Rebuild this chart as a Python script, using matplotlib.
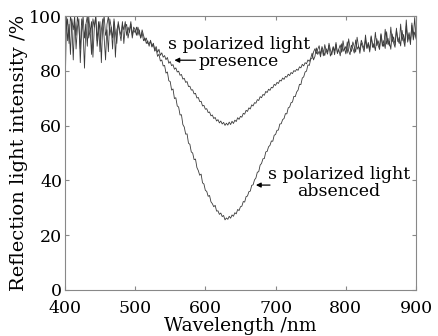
import numpy as np
import matplotlib
matplotlib.use("Agg")
import matplotlib.pyplot as plt

wavelength = np.arange(400, 901, 2)

presence_left = [
    66, 95, 99, 90, 100, 97, 84, 98, 93, 100, 96, 88, 99, 94, 81, 97, 100, 92, 95, 86,
    99, 96, 100, 89, 94, 98, 83, 97, 100, 93,
    95, 87, 99, 96, 92, 98, 85, 95, 97, 94,
    91, 97, 95, 98, 93, 96, 94, 97, 92, 95,
    94, 96, 93, 95, 92, 94, 91, 92, 90, 91,
    89]
presence_mid = [
    91.2, 89.0, 90.1, 87.6, 88.9, 86.8, 87.9, 85.7, 86.6, 85.0,
    85.6, 84.1, 84.9, 82.8, 83.4, 81.9, 82.3, 80.6, 81.1, 79.6,
    79.9, 78.4, 78.7, 77.0, 77.3, 75.8, 76.1, 74.3, 74.4, 73.0,
    73.1, 71.6, 71.8, 70.1, 70.3, 68.8, 68.9, 67.2, 67.4, 66.0,
    66.2, 64.8, 65.0, 63.6, 63.9, 62.6, 63.0, 61.7, 62.2, 61.0,
    61.7, 60.6, 61.2, 60.1, 60.9, 60.2, 61.3, 60.4, 61.6, 60.8,
    62.0, 61.5, 62.9, 62.3, 63.4, 63.1, 64.5, 64.2, 65.6, 65.2,
    66.5, 66.1, 67.6, 67.2, 68.4, 68.2, 69.5, 69.2, 70.6, 70.2,
    71.4, 71.1, 72.5, 72.1, 73.3, 72.9, 74.0, 73.8, 75.1, 74.7,
    75.8, 75.4, 76.6, 76.3, 77.4, 76.9, 78.0, 77.7, 78.8, 78.3,
    79.4, 79.0, 80.1, 79.8, 80.6, 80.2, 81.5, 81.1, 82.4, 81.8,
    83.0, 82.6, 84.0, 83.5, 84.6]
presence_right = [
    86.5, 84.0, 85.3, 88.4, 86.0, 87.2, 85.1, 88.9, 87.4, 85.6,
    88.1, 86.9, 89.3, 85.4, 87.0, 88.6, 85.9, 89.7, 86.6, 87.8,
    85.5, 89.9, 87.1, 88.4, 86.2, 90.6, 87.3, 85.9, 89.4, 88.2,
    86.5, 91.3, 87.9, 89.0, 86.4, 90.2, 88.7, 87.0, 91.5, 88.1,
    89.8, 86.9, 92.4, 88.6, 90.0, 87.4, 91.8, 89.3, 87.8, 93.2,
    89.0, 91.1, 88.2, 94.3, 89.6, 90.8, 87.9, 93.5, 90.2, 88.6,
    95.6, 90.7, 92.3, 89.1, 94.8, 91.2, 88.9, 96.4, 90.5, 93.0,
    89.6, 97.5, 91.3, 94.2, 92.0]

absenced_left = [
    78, 100, 91, 97, 86, 99, 95, 100, 88, 96, 99, 83, 95, 100, 92, 97, 89, 100, 94, 98,
    85, 96, 100, 91, 98, 87, 95, 99, 92, 84,
    97, 100, 93, 96, 88, 99, 94, 90, 98, 95,
    93, 98, 90, 96, 97, 92, 95, 98, 93, 96,
    95, 93, 96, 94, 92, 95, 93, 91, 92, 90,
    90]
absenced_mid = [
    90.8, 88.7, 89.9, 87.2, 88.0, 85.3, 86.1, 83.6, 84.0, 81.8,
    82.0, 79.2, 79.6, 76.4, 76.1, 73.0, 73.4, 69.9, 70.2, 67.2,
    66.8, 63.9, 64.0, 60.4, 59.5, 56.9, 57.0, 53.6, 53.2, 50.4,
    50.0, 47.6, 47.8, 44.7, 43.6, 41.9, 42.3, 39.1, 38.7, 36.4,
    36.0, 34.2, 34.5, 32.2, 31.5, 30.4, 30.9, 28.8, 28.9, 27.6,
    28.1, 26.8, 27.2, 25.6, 26.3, 25.8, 26.9, 26.2, 27.4, 26.9,
    28.2, 27.8, 29.4, 29.0, 30.4, 30.6, 32.3, 32.1, 34.1, 34.3,
    35.9, 36.1, 38.2, 38.4, 40.2, 40.9, 43.0, 43.2, 45.6, 46.2,
    47.9, 48.0, 50.4, 50.6, 52.3, 52.8, 54.4, 54.3, 56.5, 56.8,
    58.3, 58.4, 60.6, 60.7, 62.2, 62.6, 64.4, 64.3, 66.5, 66.8,
    68.4, 68.6, 70.7, 70.6, 72.3, 73.0, 75.1, 75.0, 77.4, 77.8,
    79.6, 79.9, 82.2, 82.0, 84.3]
absenced_right = [
    84.6, 86.9, 88.1, 86.3, 87.9, 89.2, 86.0, 88.3, 85.5, 89.6,
    87.3, 86.1, 90.1, 87.7, 85.8, 88.9, 87.2, 90.4, 86.3, 88.0,
    89.5, 86.8, 91.0, 87.6, 88.9, 86.5, 91.7, 88.3, 87.1, 90.6,
    88.8, 86.9, 92.3, 89.0, 87.7, 91.2, 89.7, 88.0, 93.1, 88.5,
    90.4, 87.6, 92.8, 89.9, 88.4, 94.1, 89.2, 91.0, 88.7, 93.6,
    90.3, 88.9, 95.2, 89.8, 91.9, 89.1, 96.0, 90.6, 92.4, 89.5,
    94.9, 91.4, 90.0, 97.1, 91.0, 93.3, 90.2, 98.6, 91.7, 94.0,
    90.8, 96.7, 92.5, 99.5, 91.6]

presence = np.array(presence_left + presence_mid + presence_right)
absenced = np.array(absenced_left + absenced_mid + absenced_right)

x_ticks = [400, 500, 600, 700, 800, 900]
y_ticks = [0, 20, 40, 60, 80, 100]

plt.rcParams['font.family'] = ['DejaVu Serif']

fig = plt.figure(figsize=(4.38, 3.36), dpi=100)
ax = fig.add_axes([0.148, 0.137, 0.802, 0.815])

ax.plot(wavelength, absenced, color='#3a3a3a', lw=0.6)
ax.plot(wavelength, presence, color='#3a3a3a', lw=0.6)

ax.set_xlim(400, 900)
ax.set_ylim(0, 100)
ax.set_xticks(x_ticks)
ax.set_yticks(y_ticks)
ax.tick_params(direction='in', length=3, color='#888888', labelsize=12.5,
               top=True, right=True)
ax.tick_params(axis='x', pad=7)
ax.tick_params(axis='y', pad=2)
for s in ax.spines.values():
    s.set_color('#888888')
    s.set_linewidth(0.8)

ax.set_xlabel('Wavelength /nm', fontsize=13.5, labelpad=0)
ax.set_ylabel('Reflection light intensity /%', fontsize=14, labelpad=1)

ax.text(648, 86.5, 's polarized light\npresence', ha='center', va='center',
        fontsize=12.5, linespacing=1.0)
ax.text(790, 39.2, 's polarized light\nabsenced', ha='center', va='center',
        fontsize=12.5, linespacing=1.0)

ax.annotate('', xy=(552, 83.9), xytext=(590, 83.9),
            arrowprops=dict(arrowstyle='-|>', color='black', lw=0.9,
                            mutation_scale=7))
ax.annotate('', xy=(668, 38.3), xytext=(696, 38.3),
            arrowprops=dict(arrowstyle='-|>', color='black', lw=0.9,
                            mutation_scale=7))

fig.savefig('out.png', dpi=100)
